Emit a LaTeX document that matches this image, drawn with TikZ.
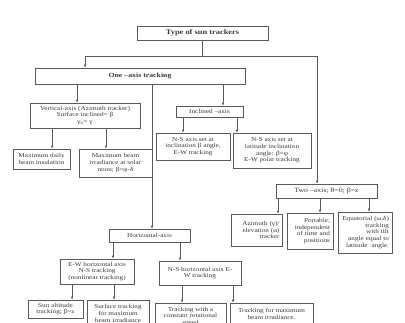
\documentclass[tikz,border=0pt]{standalone}
\usepackage{fontspec}
\setmainfont{Liberation Serif}
\newfontfamily\wserif[FakeStretch=1.2]{Liberation Serif}
\usetikzlibrary{arrows.meta}
\definecolor{linec}{HTML}{5A5A5A}
\definecolor{textc}{HTML}{3A3A3A}
\begin{document}
\begin{tikzpicture}[x=1pt,y=-1pt,
  box/.style={draw=linec, line width=0.6pt, inner sep=0pt, align=center, text=textc,
    font=\wserif\fontsize{6}{6.6}\selectfont},
  rbox/.style={box, inner xsep=3pt, align=right},
  arr/.style={draw=linec, line width=0.6pt, -{Latex[length=3pt,width=2.6pt]}},
  ln/.style={draw=linec, line width=0.6pt}]
\useasboundingbox (0,0) rectangle (405,322);
\fill[white] (0,0) rectangle (405,322);
\clip (0,0) rectangle (405,322);

% nodes
\node[box, minimum width=131pt, minimum height=14pt, font=\wserif\bfseries\fontsize{7}{8}\selectfont] (top) at (202.5,33) {Type of sun trackers};
\node[box, minimum width=210pt, minimum height=16pt, font=\wserif\bfseries\fontsize{6.5}{7}\selectfont] (one) at (140,76) {One –axis tracking};
\node[box, minimum width=110pt, minimum height=25pt] (vert) at (85,115.5) {Vertical-axis (Azimuth tracker)\\Surface inclined= β\\γ\textsubscript{s}= γ};
\node[box, minimum width=57pt, minimum height=20pt] (maxd) at (41.5,159) {Maximum daily\\beam insulation};
\node[box, minimum width=73pt, minimum height=28pt] (maxb) at (115.5,163) {Maximum beam\\irradiance at solar\\noon; β=φ-δ};
\node[box, minimum width=67pt, minimum height=11pt] (incl) at (209.5,111.5) {Inclined –axis};
\node[box, minimum width=74pt, minimum height=27pt] (nsi) at (193,146.5) {N-S axis set at\\inclination β angle,\\E-W tracking};
\node[box, minimum width=78pt, minimum height=35pt] (nsl) at (272,150.5) {N-S axis set at\\latitude inclination\\angle: β=φ\\E-W polar tracking};
\node[box, minimum width=101pt, minimum height=14pt, font=\wserif\fontsize{6.5}{7}\selectfont] (two) at (326.5,191) {Two –axis; θ=0; β=z};
\node[rbox, text width=45pt, minimum height=32pt] (azi) at (257,230) {Azimuth (γ)/\\elevation (α)\\tracker};
\node[rbox, text width=40pt, minimum height=36pt] (port) at (310,231) {Portable;\\independent\\of time and\\positions};
\node[rbox, text width=48pt, minimum height=41pt] (equ) at (365,232.5) {Equatorial (ω,δ)\\tracking with tilt\\angle equal to\\latitude\ \ angle.};
\node[box, minimum width=81pt, minimum height=13pt] (horiz) at (149.5,235.5) {Horizontal-axis};
\node[box, minimum width=74pt, minimum height=25pt] (ew) at (97,271.5) {E-W horizontal axis\\N-S tracking\\(nonlinear tracking)};
\node[box, minimum width=82pt, minimum height=24pt] (ns) at (200,273) {N-S horizontal axis E-\\W tracking};
\node[box, minimum width=55pt, minimum height=18pt] (sun) at (55.5,309) {Sun altitude\\tracking; β=z};
\node[box, minimum width=62pt, minimum height=27pt] (surf) at (118,313.5) {Surface tracking\\for maximum\\beam irradiance};
\node[box, minimum width=71pt, minimum height=27pt] (tconst) at (190.5,316.5) {Tracking with a\\constant rotational\\speed};
\node[box, minimum width=83pt, minimum height=22pt] (tmax) at (271.5,314) {Tracking for maximum\\beam irradiance.};

% connectors
\coordinate (j) at (202.5,56);
\coordinate (jl) at (85,56);
\coordinate (jr) at (317,56);
\draw[ln] (top.south) -- (j);
\draw[ln] (jl) -- (jr);
\draw[arr] (jl) -- (one.north -| jl);
\draw[arr] (jr) -- (two.north -| jr);

\draw[arr] (one.south -| 77,0) -- (vert.north -| 77,0);
\draw[arr] (one.south -| 152,0) -- (horiz.north -| 152,0);
\draw[arr] (one.south -| 223,0) -- (incl.north -| 223,0);

\draw[arr] (vert.south -| 52,0) -- (maxd.north -| 52,0);
\draw[arr] (vert.south -| 106,0) -- (maxb.north -| 106,0);

\draw[arr] (incl.south -| 183,0) -- (nsi.north -| 183,0);
\draw[arr] (incl.south -| 237,0) -- (nsl.north -| 237,0);

\draw[arr] (two.south -| 278,0) -- (azi.north -| 278,0);
\draw[arr] (two.south -| 320,0) -- (port.north -| 320,0);
\draw[arr] (two.south -| 369,0) -- (equ.north -| 369,0);

\draw[arr] (horiz.south -| 113,0) -- (ew.north -| 113,0);
\draw[arr] (horiz.south -| 180,0) -- (ns.north -| 180,0);

\draw[arr] (ew.south -| 72,0) -- (sun.north -| 72,0);
\draw[arr] (ew.south -| 114,0) -- (surf.north -| 114,0);

\draw[arr] (ns.south -| 182,0) -- (tconst.north -| 182,0);
\draw[arr] (ns.south -| 233,0) -- (tmax.north -| 233,0);
\end{tikzpicture}
\end{document}
